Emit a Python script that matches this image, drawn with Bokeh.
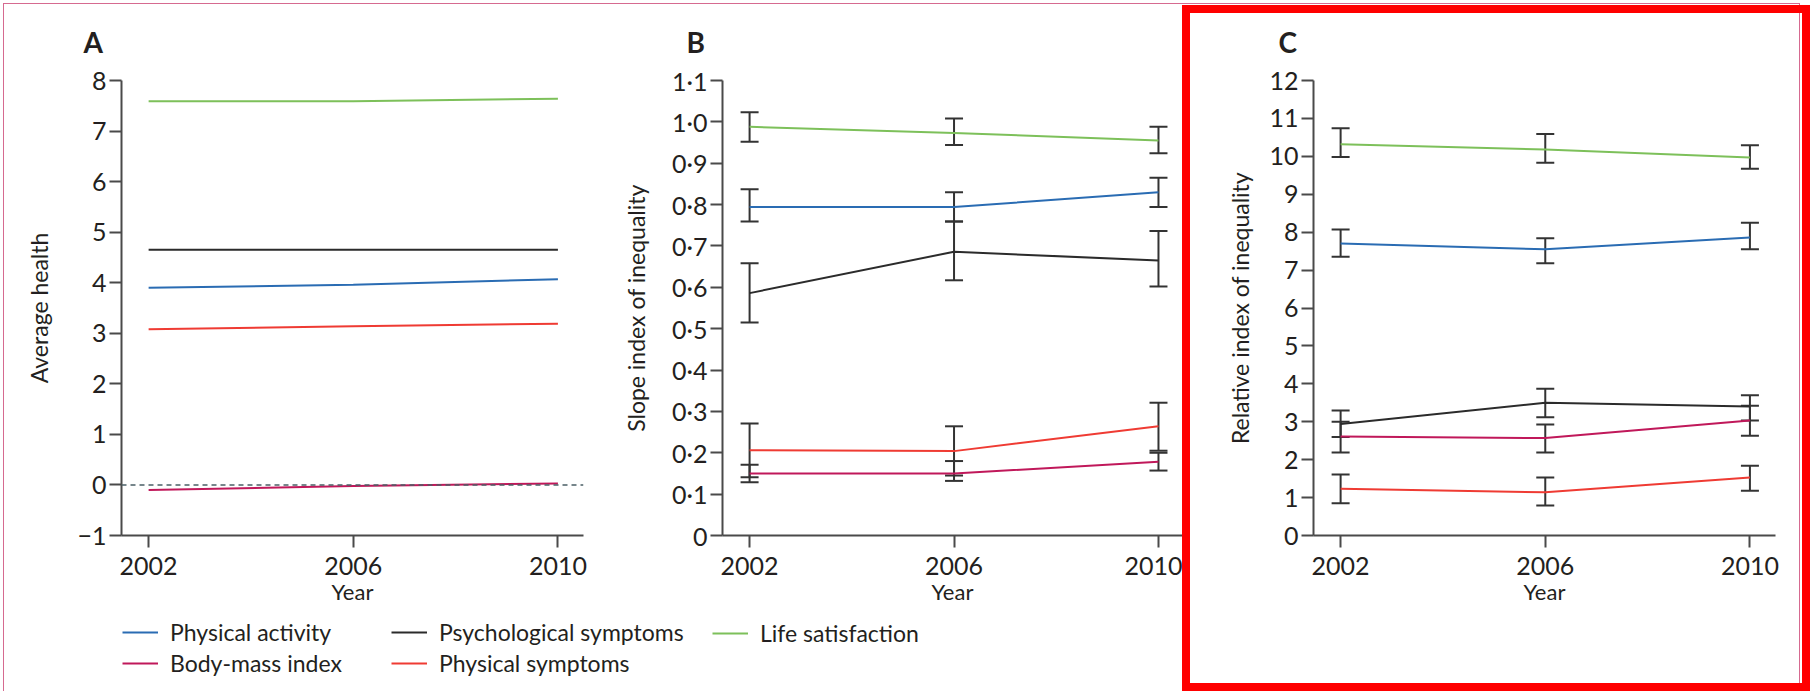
from bokeh.plotting import figure
from bokeh.models import (ColumnDataSource, Whisker, TeeHead, Span, Legend, LegendItem,
                          FixedTicker, CustomJSTickFormatter, Title, Range1d, InlineStyleSheet)
from bokeh.layouts import row, column
from bokeh.embed import file_html
from bokeh.resources import INLINE

# ---------------- data ----------------
years = [2002, 2006, 2010]
series_names = ["Physical activity", "Psychological symptoms", "Life satisfaction",
                "Body-mass index", "Physical symptoms"]
series_colors = ["#2a6cb3", "#2b2b2b", "#7dc05a", "#c0185a", "#ef3b33"]

# Panel A: average health
avg_physical_activity = [3.90, 3.96, 4.07]
avg_psychological = [4.65, 4.65, 4.65]
avg_life_satisfaction = [7.59, 7.59, 7.64]
avg_bmi = [-0.10, -0.02, 0.03]
avg_physical_symptoms = [3.08, 3.14, 3.19]

# Panel B: slope index of inequality (estimate, lower CI, upper CI)
sii_physical_activity = [0.794, 0.794, 0.830]
sii_physical_activity_lo = [0.759, 0.759, 0.794]
sii_physical_activity_hi = [0.837, 0.830, 0.865]
sii_psychological = [0.586, 0.686, 0.665]
sii_psychological_lo = [0.515, 0.617, 0.602]
sii_psychological_hi = [0.658, 0.759, 0.736]
sii_life_satisfaction = [0.988, 0.973, 0.955]
sii_life_satisfaction_lo = [0.952, 0.944, 0.924]
sii_life_satisfaction_hi = [1.023, 1.008, 0.988]
sii_bmi = [0.150, 0.150, 0.178]
sii_bmi_lo = [0.129, 0.132, 0.157]
sii_bmi_hi = [0.171, 0.180, 0.200]
sii_physical_symptoms = [0.206, 0.204, 0.264]
sii_physical_symptoms_lo = [0.141, 0.145, 0.205]
sii_physical_symptoms_hi = [0.271, 0.264, 0.321]

# Panel C: relative index of inequality
rii_physical_activity = [7.70, 7.55, 7.86]
rii_physical_activity_lo = [7.35, 7.18, 7.55]
rii_physical_activity_hi = [8.07, 7.84, 8.25]
rii_psychological = [2.94, 3.50, 3.40]
rii_psychological_lo = [2.60, 3.12, 3.03]
rii_psychological_hi = [3.30, 3.87, 3.70]
rii_life_satisfaction = [10.32, 10.18, 9.97]
rii_life_satisfaction_lo = [9.98, 9.83, 9.67]
rii_life_satisfaction_hi = [10.74, 10.59, 10.29]
rii_bmi = [2.61, 2.57, 3.03]
rii_bmi_lo = [2.19, 2.19, 2.63]
rii_bmi_hi = [3.00, 2.93, 3.42]
rii_physical_symptoms = [1.23, 1.14, 1.53]
rii_physical_symptoms_lo = [0.85, 0.79, 1.18]
rii_physical_symptoms_hi = [1.61, 1.53, 1.84]

x_ticks = [2002, 2006, 2010]
a_ticks = [-1, 0, 1, 2, 3, 4, 5, 6, 7, 8]
b_ticks = [0, 0.1, 0.2, 0.3, 0.4, 0.5, 0.6, 0.7, 0.8, 0.9, 1.0, 1.1]
c_ticks = [0, 1, 2, 3, 4, 5, 6, 7, 8, 9, 10, 11, 12]

# ---------------- styling ----------------
FONT = "Lato"
TEXT = "#231f20"
AXC = "#4a4a4a"


def style(p, ylabel, yticks, fmt_code, label_standoff):
    p.xaxis.ticker = FixedTicker(ticks=x_ticks)
    p.yaxis.ticker = FixedTicker(ticks=yticks)
    p.yaxis.formatter = CustomJSTickFormatter(code=fmt_code)
    p.xaxis.axis_label = "Year"
    p.yaxis.axis_label = ylabel
    for ax in (p.xaxis, p.yaxis):
        ax.axis_line_color = AXC
        ax.axis_line_width = 2
        ax.major_tick_line_color = AXC
        ax.major_tick_line_width = 2
        ax.major_tick_out = 12
        ax.major_tick_in = 0
        ax.minor_tick_line_color = None
        ax.major_label_text_font = FONT
        ax.major_label_text_font_size = "25px"
        ax.major_label_text_color = TEXT
        ax.axis_label_text_font = FONT
        ax.axis_label_text_font_size = "23px"
        ax.axis_label_text_font_style = "normal"
        ax.axis_label_text_color = TEXT
    p.xaxis.axis_label_text_font_size = "22px"
    p.xaxis.major_label_standoff = 9
    p.xaxis.axis_label_standoff = 0
    p.yaxis.major_label_standoff = 3
    p.yaxis.axis_label_standoff = label_standoff
    p.xgrid.grid_line_color = None
    p.ygrid.grid_line_color = None
    p.outline_line_color = None


def panel_title(p, letter, offset):
    p.add_layout(Title(text=letter, align="left", offset=offset, standoff=43,
                       text_font=FONT, text_font_size="28px", text_font_style="bold",
                       text_color=TEXT), "above")


INT_FMT = "return tick < 0 ? '\u2212' + Math.abs(tick) : tick.toString();"
DOT_FMT = "return tick == 0 ? '0' : tick.toFixed(1).replace('.', '\u00b7');"

common = dict(output_backend="svg", toolbar_location=None, tools="")

# ---------------- Panel A ----------------
pA = figure(width=610, height=610, x_range=Range1d(2001.47, 2010.5), y_range=Range1d(-1, 8),
            min_border_left=121, min_border_right=27, min_border_top=80, min_border_bottom=75,
            **common)
style(pA, "Average health", a_ticks, INT_FMT, 21)
pA.add_layout(Span(location=0, dimension="width", line_color="#4a5f66", line_width=1.5,
                   line_dash="5 4"))
a_series = [avg_physical_activity, avg_psychological, avg_life_satisfaction, avg_bmi,
            avg_physical_symptoms]
for vals, col in zip(a_series, series_colors):
    pA.line(years, vals, line_color=col, line_width=2)
panel_title(pA, "A", -38)

# ---------------- Panel B / C helpers ----------------


def add_series(p, est, lo, hi, col):
    p.line(years, est, line_color=col, line_width=2)
    src = ColumnDataSource(dict(x=years, lower=lo, upper=hi))
    p.add_layout(Whisker(source=src, base="x", lower="lower", upper="upper", dimension="height",
                         line_color="#333333", line_width=2,
                         upper_head=TeeHead(size=18, line_color="#333333", line_width=2),
                         lower_head=TeeHead(size=18, line_color="#333333", line_width=2)))


# ---------------- Panel B ----------------
pB = figure(width=572, height=610, x_range=Range1d(2001.47, 2010.47), y_range=Range1d(0, 1.1),
            min_border_left=112, min_border_right=0, min_border_top=80, min_border_bottom=75,
            **common)
style(pB, "Slope index of inequality", b_ticks, DOT_FMT, 19)
b_series = [
    (sii_physical_activity, sii_physical_activity_lo, sii_physical_activity_hi),
    (sii_psychological, sii_psychological_lo, sii_psychological_hi),
    (sii_life_satisfaction, sii_life_satisfaction_lo, sii_life_satisfaction_hi),
    (sii_bmi, sii_bmi_lo, sii_bmi_hi),
    (sii_physical_symptoms, sii_physical_symptoms_lo, sii_physical_symptoms_hi),
]
for (e, lo, hi), col in zip(b_series, series_colors):
    add_series(pB, e, lo, hi, col)
panel_title(pB, "B", -36)

# ---------------- Panel C ----------------
pC = figure(width=630, height=691, x_range=Range1d(2001.47, 2010.5), y_range=Range1d(0, 12),
            min_border_left=131, min_border_right=37, min_border_top=80, min_border_bottom=156,
            **common)
style(pC, "Relative index of inequality", c_ticks, INT_FMT, 12)
c_series = [
    (rii_physical_activity, rii_physical_activity_lo, rii_physical_activity_hi),
    (rii_psychological, rii_psychological_lo, rii_psychological_hi),
    (rii_life_satisfaction, rii_life_satisfaction_lo, rii_life_satisfaction_hi),
    (rii_bmi, rii_bmi_lo, rii_bmi_hi),
    (rii_physical_symptoms, rii_physical_symptoms_lo, rii_physical_symptoms_hi),
]
for (e, lo, hi), col in zip(c_series, series_colors):
    add_series(pC, e, lo, hi, col)
panel_title(pC, "C", -35)

# ---------------- Legend strip ----------------
pL = figure(width=1182, height=81, x_range=Range1d(0, 1), y_range=Range1d(0, 1),
            x_axis_type=None, y_axis_type=None, min_border=0, **common)
pL.outline_line_color = None
pL.xgrid.grid_line_color = None
pL.ygrid.grid_line_color = None

# legend proxies: the year series lie outside this strip's 0..1 ranges, so only the
# legend swatches are visible
leg_r = {}
for name, col, vals in zip(series_names, series_colors, a_series):
    leg_r[name] = pL.line(x=years, y=vals, line_color=col, line_width=2)


def make_legend(names, loc):
    lg = Legend(items=[LegendItem(label=n, renderers=[leg_r[n]]) for n in names],
                location=loc, orientation="vertical", padding=0, margin=0, spacing=3,
                glyph_width=36, glyph_height=20, label_standoff=12,
                label_text_font=FONT, label_text_font_size="23px", label_text_color=TEXT,
                border_line_color=None, background_fill_alpha=0)
    pL.add_layout(lg)


make_legend(["Physical activity", "Body-mass index"], (122, 14))
make_legend(["Psychological symptoms", "Physical symptoms"], (391, 14))
make_legend(["Life satisfaction"], (712, 44))

layout = row(column(row(pA, pB, spacing=0), pL, spacing=0), pC, spacing=0)

# page frame (thin pink) and the red highlight box around panel C
layout.stylesheets = [InlineStyleSheet(css="""
:host { position: relative; }
:host::before {
  content: ""; position: absolute; left: 1182px; top: 5px; width: 628px; height: 686px;
  border: 8px solid #ff0000; box-sizing: border-box; pointer-events: none; z-index: 20;
}
:host::after {
  content: ""; position: absolute; left: 3px; top: 3px; width: 1797px; height: 688px;
  border: 1.5px solid #d66a90; border-bottom: none; box-sizing: border-box;
  pointer-events: none; z-index: 10;
}
""")]

open("out.html", "w").write(file_html(layout, INLINE))
